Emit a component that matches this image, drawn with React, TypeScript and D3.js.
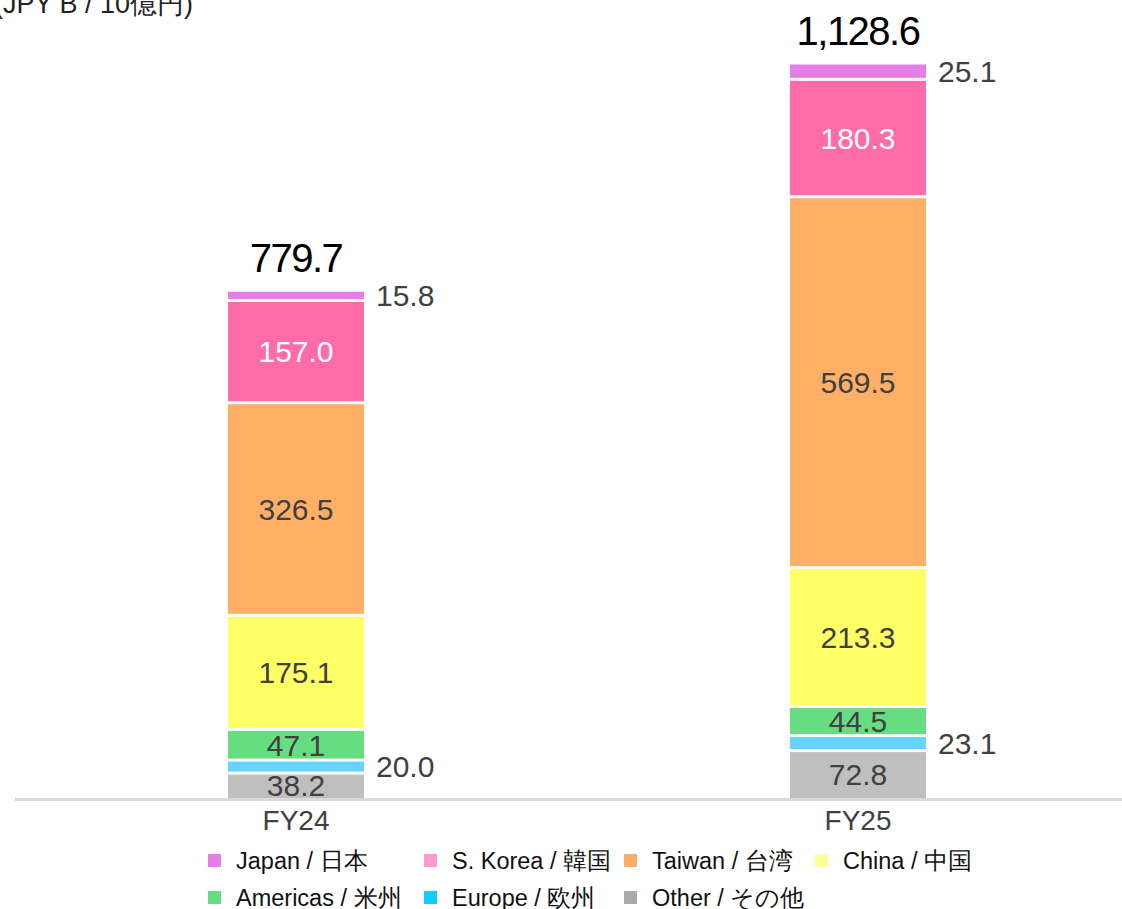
import React from "react";
import * as d3 from "d3";

const categories = ["FY24", "FY25"];
const regions = ["Japan", "S. Korea", "Taiwan", "China", "Americas", "Europe", "Other"];
const legendLabels = ["Japan / 日本", "S. Korea / 韓国", "Taiwan / 台湾", "China / 中国", "Americas / 米州", "Europe / 欧州", "Other / その他"];
const fy24Values = [15.8, 157.0, 326.5, 175.1, 47.1, 20.0, 38.2];
const fy25Values = [25.1, 180.3, 569.5, 213.3, 44.5, 23.1, 72.8];
const totals = ["779.7", "1,128.6"];
const barColors = ["#e67ee8", "#ff6ca8", "#ffb066", "#ffff66", "#66dd80", "#66d4ff", "#bfbfbf"];
const legendColors = ["#e67ee8", "#ff99cc", "#ffaa66", "#ffff99", "#66dd80", "#11ccff", "#aaaaaa"];
const outsideLabel = [true, false, false, false, false, true, false];
const labelColors = ["#404040", "#ffffff", "#404040", "#404040", "#404040", "#404040", "#404040"];

const W = 1122;
const H = 909;
const FONT = "'Liberation Sans', Arial, sans-serif";

export default function App() {
  const series = [fy24Values, fy25Values];
  const x = d3.scalePoint<string>().domain(categories).range([296, 858]);
  const y = d3.scaleLinear().domain([0, 1128.6]).range([798, 63]);
  const barW = 136;

  // stack from bottom: Other, Europe, Americas, China, Taiwan, Korea, Japan
  const order = [6, 5, 4, 3, 2, 1, 0];

  return (
    <svg width={W} height={H} style={{ position: "absolute", left: 0, top: 0, fontFamily: FONT }}>
      <rect width={W} height={H} fill="#fff" />
      <text x={-6} y={13} fontSize={27} fill="#222">(JPY B / 10億円)</text>
      {categories.map((c, ci) => {
        const vals = series[ci];
        let cum = 0;
        const cx = x(c)!;
        const segs = order.map((ri) => {
          const v0 = cum;
          cum += vals[ri];
          return { ri, v0, v1: cum };
        });
        return (
          <g key={c}>
            {segs.map(({ ri, v0, v1 }) => {
              const yTop = y(v1) + 1.5;
              const yBot = ri === 6 ? y(v0) : y(v0) - 1.5;
              const mid = (y(v0) + y(v1)) / 2;
              return (
                <g key={ri}>
                  <rect x={cx - barW / 2} y={yTop} width={barW} height={Math.max(0, yBot - yTop)} fill={barColors[ri]} />
                  {outsideLabel[ri] ? (
                    <text x={cx + barW / 2 + 12} y={mid} dy="0.36em" fontSize={30} fill="#404040">
                      {vals[ri].toFixed(1)}
                    </text>
                  ) : (
                    <text x={cx} y={mid} dy="0.36em" textAnchor="middle" fontSize={30} fill={labelColors[ri]}>
                      {vals[ri].toFixed(1)}
                    </text>
                  )}
                </g>
              );
            })}
            <text x={cx} y={y(cum) - 18} textAnchor="middle" fontSize={40} fill="#000" letterSpacing={-1.5}>
              {totals[ci]}
            </text>
            <text x={cx} y={830} textAnchor="middle" fontSize={28} fill="#404040">
              {c}
            </text>
          </g>
        );
      })}
      <line x1={15} x2={W} y1={799.5} y2={799.5} stroke="#d9d9d9" strokeWidth={3} />
      {legendLabels.map((l, i) => {
        const col = i % 4;
        const row = Math.floor(i / 4);
        const lx = [208, 424, 624, 815][col];
        const ly = [861, 898][row];
        return (
          <g key={l}>
            <rect x={lx} y={ly - 7} width={13} height={13} fill={legendColors[i]} />
            <text x={lx + 28} y={ly} dy="0.36em" fontSize={23.5} fill="#111">{l}</text>
          </g>
        );
      })}
    </svg>
  );
}
